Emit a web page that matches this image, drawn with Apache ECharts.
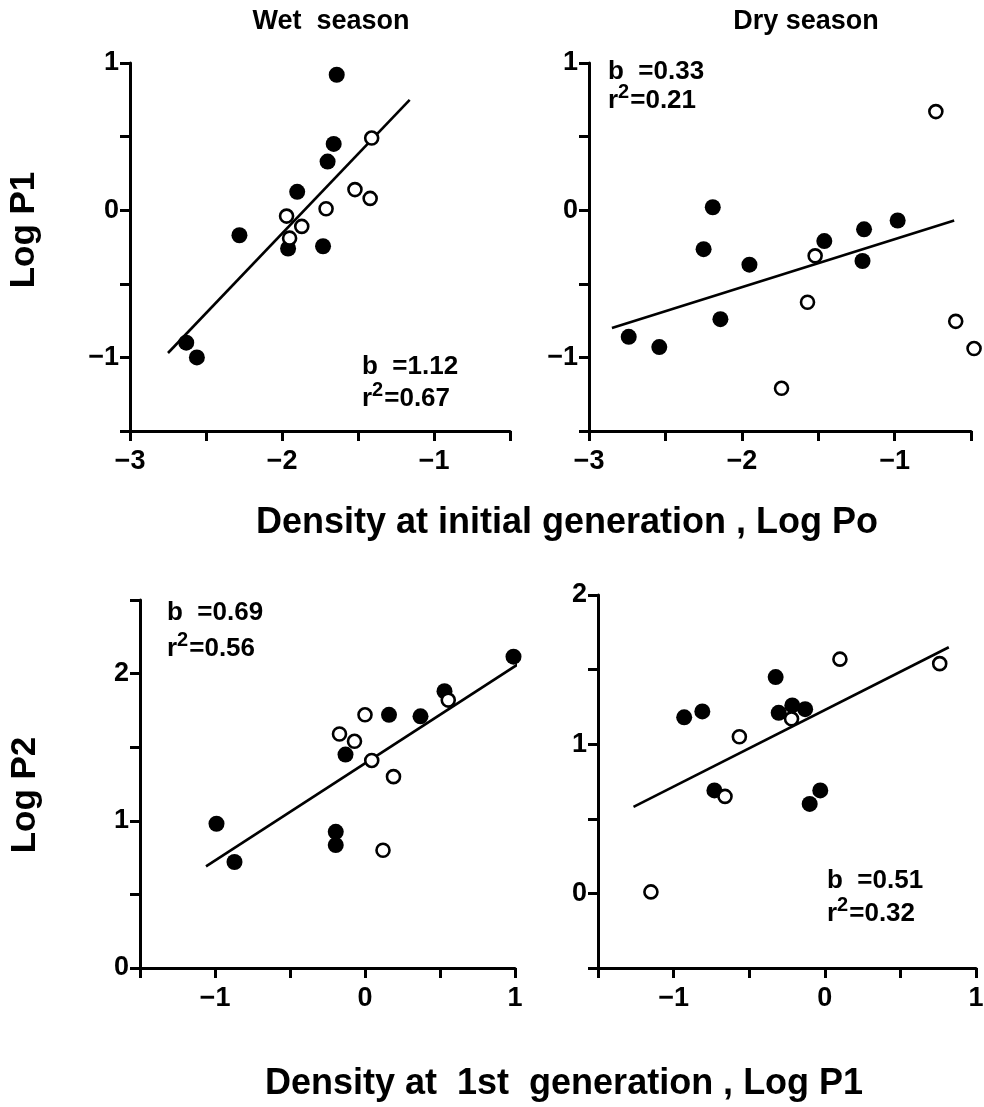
<!DOCTYPE html>
<html>
<head>
<meta charset="utf-8">
<script src="https://cdn.jsdelivr.net/npm/echarts@6/dist/echarts.min.js"></script>
<style>html,body{margin:0;padding:0;background:#fff}#chart{width:984px;height:1107px}</style>
</head>
<body>
<div id="chart"></div>
<script>
// ---- texts ----
const panelTitles = ['Wet  season', 'Dry season'];
const yTitles = ['Log P1', 'Log P2'];
const xTitles = ['Density at initial generation , Log Po', 'Density at  1st  generation , Log P1'];
const statB = ['b  =1.12', 'b  =0.33', 'b  =0.69', 'b  =0.51'];
const statR2 = ['=0.67', '=0.21', '=0.56', '=0.32'];

// ---- tick labels ----
const xTicksTop = [-3, -2, -1];
const yTicksTop = [-1, 0, 1];
const xTicksBottom = [-1, 0, 1];
const yTicksBottom = [0, 1, 2];

// ---- data: [x, y] ----
// Panel A: wet season, Log Po -> Log P1
const wetPoFilled = [[-1.64,0.92],[-1.66,0.45],[-1.70,0.33],[-1.90,0.125],[-2.28,-0.17],[-1.96,-0.26],[-1.73,-0.245],[-2.63,-0.90],[-2.56,-1.00]];
const wetPoOpen = [[-1.41,0.49],[-1.52,0.14],[-1.42,0.08],[-1.71,0.01],[-1.97,-0.04],[-1.87,-0.11],[-1.95,-0.19]];
const wetPoFit = [[-2.75,-0.97],[-1.16,0.75]];
// Panel B: dry season, Log Po -> Log P1
const dryPoFilled = [[-2.19,0.02],[-2.25,-0.265],[-1.95,-0.37],[-2.14,-0.74],[-2.74,-0.86],[-2.54,-0.93],[-1.46,-0.21],[-1.20,-0.13],[-1.21,-0.345],[-0.98,-0.07]];
const dryPoOpen = [[-0.73,0.67],[-1.52,-0.31],[-1.57,-0.625],[-1.74,-1.21],[-0.60,-0.755],[-0.48,-0.94]];
const dryPoFit = [[-2.85,-0.80],[-0.61,-0.07]];
// Panel C: wet season, Log P1 -> Log P2
const wetP1Filled = [[0.99,2.115],[0.53,1.88],[0.16,1.72],[0.37,1.71],[-0.13,1.45],[-0.99,0.98],[-0.87,0.72],[-0.195,0.925],[-0.195,0.835]];
const wetP1Open = [[0.555,1.82],[0.0,1.72],[-0.17,1.59],[-0.07,1.54],[0.045,1.41],[0.19,1.30],[0.12,0.80]];
const wetP1Fit = [[-1.06,0.69],[1.06,2.09]];
// Panel D: dry season, Log P1 -> Log P2
const dryP1Filled = [[-0.325,1.45],[-0.93,1.18],[-0.81,1.22],[-0.305,1.21],[-0.215,1.26],[-0.13,1.235],[-0.73,0.69],[-0.03,0.69],[-0.10,0.60]];
const dryP1Open = [[0.10,1.57],[0.76,1.54],[-0.565,1.05],[-0.22,1.17],[-0.66,0.65],[-1.15,0.01]];
const dryP1Fit = [[-1.265,0.58],[0.82,1.65]];

// ---- axis ranges ----
const xRangeTop = [-3, -0.5];
const yRangeTop = [-1.5, 1];
const xRangeBottom = [-1.5, 1];
const yRangeLeftBottom = [0, 2.5];
const yRangeRightBottom = [-0.5, 2];

const FONT = '"Liberation Sans", Arial, sans-serif';

function fmt(labels) {
  return function (v) {
    for (const t of labels) {
      if (Math.abs(v - t) < 1e-6) return t < 0 ? '\u2212' + Math.abs(t) : String(t);
    }
    return '';
  };
}

function axis(idx, range, labels, isX) {
  return {
    type: 'value', gridIndex: idx, min: range[0], max: range[1], interval: 0.5,
    axisLine: { show: true, onZero: false, lineStyle: { color: '#000', width: 3 } },
    axisTick: { show: true, inside: false, length: 10, lineStyle: { color: '#000', width: 3 } },
    splitLine: { show: false },
    axisLabel: {
      show: true, formatter: fmt(labels), color: '#000', fontSize: 27, fontWeight: 'bold',
      fontFamily: FONT, margin: isX ? 17 : 11, showMinLabel: true, showMaxLabel: true, hideOverlap: false
    }
  };
}

function filled(data, i) {
  return { type: 'scatter', xAxisIndex: i, yAxisIndex: i, data: data, symbol: 'circle', symbolSize: 16,
    itemStyle: { color: '#000', opacity: 1 }, clip: false, silent: true, z: 3 };
}
function open(data, i) {
  return { type: 'scatter', xAxisIndex: i, yAxisIndex: i, data: data, symbol: 'circle', symbolSize: 13,
    itemStyle: { color: '#fff', borderColor: '#000', borderWidth: 2.6, opacity: 1 }, clip: false, silent: true, z: 4 };
}
function fit(data, i) {
  return { type: 'line', xAxisIndex: i, yAxisIndex: i, data: data, symbol: 'none', showSymbol: false,
    lineStyle: { color: '#000', width: 2.6 }, clip: false, silent: true, z: 2 };
}

function txt(x, y, text, size, align, rot) {
  return { type: 'text', x: x, y: y, rotation: rot || 0, silent: true,
    style: { text: text, fill: '#000', font: 'bold ' + size + 'px ' + FONT, align: align || 'left', verticalAlign: 'middle' } };
}
function r2(x, y, value) {
  return { type: 'text', x: x, y: y, silent: true,
    style: { text: '{n|r}{s|2}{n|' + value + '}', align: 'left', verticalAlign: 'middle',
      rich: {
        n: { fill: '#000', fontSize: 26, fontWeight: 'bold', fontFamily: FONT, lineHeight: 32, verticalAlign: 'bottom' },
        s: { fill: '#000', fontSize: 20, fontWeight: 'bold', fontFamily: FONT, verticalAlign: 'top', padding: [0, 1, 0, 0] }
      } } };
}

const grids = [
  { left: 130, top: 63, width: 380, height: 368 },
  { left: 589, top: 63, width: 382, height: 368 },
  { left: 140, top: 600, width: 375, height: 368 },
  { left: 598, top: 595, width: 378, height: 373 }
].map(g => Object.assign({ containLabel: false, outerBoundsMode: 'none' }, g));

const option = {
  backgroundColor: '#fff',
  animation: false,
  grid: grids,
  xAxis: [
    axis(0, xRangeTop, xTicksTop, true),
    axis(1, xRangeTop, xTicksTop, true),
    axis(2, xRangeBottom, xTicksBottom, true),
    axis(3, xRangeBottom, xTicksBottom, true)
  ],
  yAxis: [
    axis(0, yRangeTop, yTicksTop, false),
    axis(1, yRangeTop, yTicksTop, false),
    axis(2, yRangeLeftBottom, yTicksBottom, false),
    axis(3, yRangeRightBottom, yTicksBottom, false)
  ],
  series: [
    fit(wetPoFit, 0), filled(wetPoFilled, 0), open(wetPoOpen, 0),
    fit(dryPoFit, 1), filled(dryPoFilled, 1), open(dryPoOpen, 1),
    fit(wetP1Fit, 2), filled(wetP1Filled, 2), open(wetP1Open, 2),
    fit(dryP1Fit, 3), filled(dryP1Filled, 3), open(dryP1Open, 3)
  ],
  graphic: [
    txt(331, 22, panelTitles[0], 27, 'center'),
    txt(806, 22, panelTitles[1], 27, 'center'),
    txt(24, 230, yTitles[0], 35, 'center', Math.PI / 2),
    txt(25, 795, yTitles[1], 35, 'center', Math.PI / 2),
    txt(256, 523, xTitles[0], 36, 'left'),
    txt(265, 1084, xTitles[1], 36, 'left'),
    txt(362, 367, statB[0], 26, 'left'), r2(362, 396, statR2[0]),
    txt(608, 72, statB[1], 26, 'left'), r2(608, 98, statR2[1]),
    txt(167, 613, statB[2], 26, 'left'), r2(167, 646, statR2[2]),
    txt(827, 881, statB[3], 26, 'left'), r2(827, 911, statR2[3])
  ]
};

const chart = echarts.init(document.getElementById('chart'), null, { renderer: 'canvas' });
chart.setOption(option);
</script>
</body>
</html>
